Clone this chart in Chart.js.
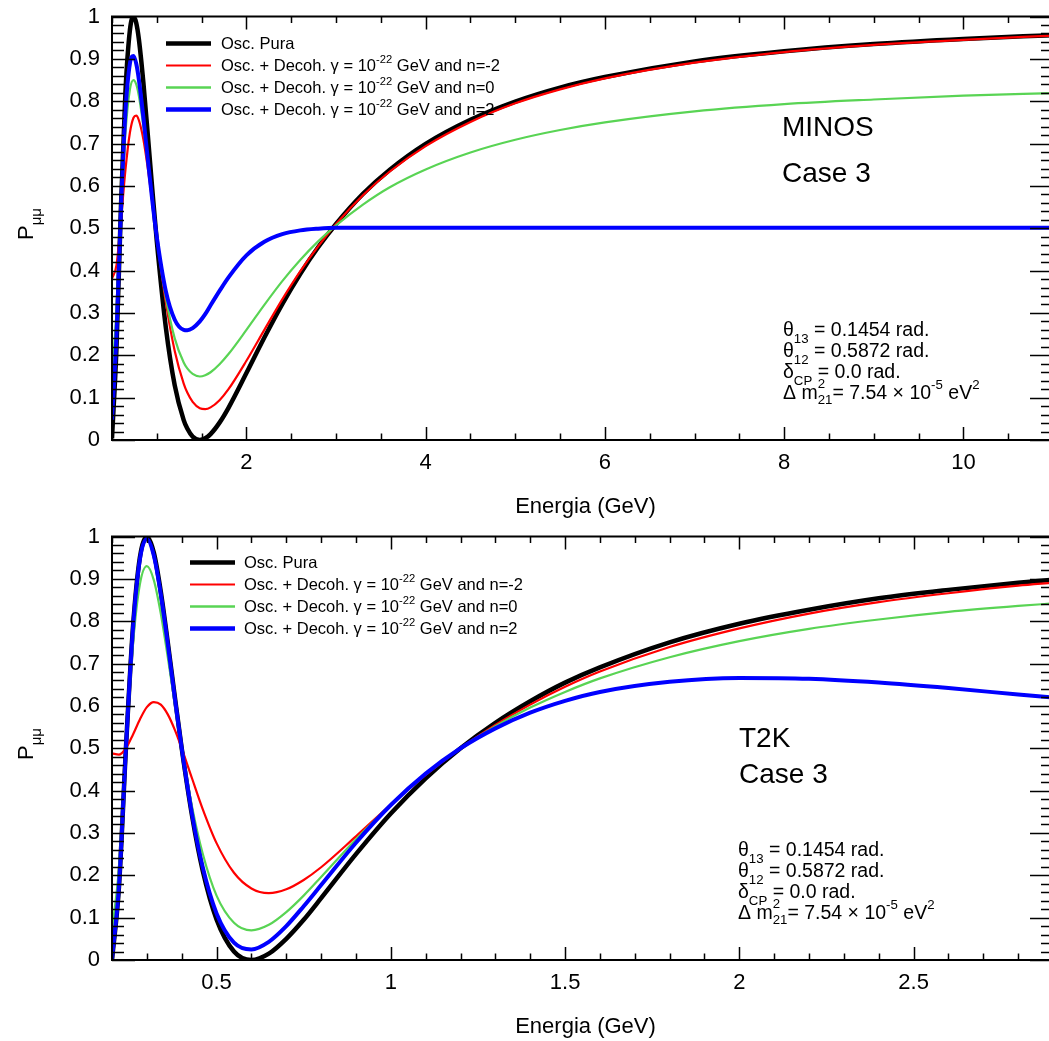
<!DOCTYPE html>
<html>
<head>
<meta charset="utf-8">
<script src="https://cdn.jsdelivr.net/npm/chart.js@4.4.1/dist/chart.umd.min.js"></script>
<style>
  html, body { margin: 0; padding: 0; background: #fff; overflow: hidden; }
  canvas { position: absolute; left: 0; }
  #minos { top: 0; }
  #t2k { top: 520px; }
</style>
</head>
<body>
<canvas id="minos" width="1060" height="520"></canvas>
<canvas id="t2k" width="1060" height="520"></canvas>
<script>
const FONT = '"Liberation Sans", Arial, Helvetica, sans-serif';

// ---- MINOS (upper panel) ----
const minosEnergy = [0.5, 0.55, 0.6, 0.65, 0.7, 0.74, 0.77, 0.8, 0.85, 0.9, 0.95, 1.0, 1.1, 1.2, 1.3, 1.34, 1.4, 1.48, 1.54, 1.6,
  1.7, 1.8, 2.0, 2.2, 2.4, 2.6, 2.8, 3.0, 3.3, 3.6, 4.0, 4.5, 5.0, 5.5, 6.0, 7.0, 8.0, 9.0, 10.0, 11.0];
const minosPura = [0.004, 0.218, 0.552, 0.822, 0.968, 1.000, 0.985, 0.946, 0.844, 0.719, 0.591, 0.469, 0.267, 0.129, 0.047, 0.027, 0.008, 0.000, 0.004, 0.014,
  0.041, 0.076, 0.158, 0.242, 0.321, 0.392, 0.455, 0.510, 0.581, 0.638, 0.699, 0.756, 0.799, 0.832, 0.857, 0.894, 0.918, 0.935, 0.947, 0.956];
const minosNm2 = [0.381, 0.413, 0.519, 0.638, 0.726, 0.761, 0.766, 0.755, 0.710, 0.641, 0.561, 0.478, 0.326, 0.210, 0.133, 0.112, 0.090, 0.075, 0.073, 0.077,
  0.094, 0.120, 0.187, 0.260, 0.332, 0.398, 0.457, 0.510, 0.578, 0.634, 0.694, 0.751, 0.795, 0.828, 0.854, 0.891, 0.916, 0.933, 0.945, 0.955];
const minosN0 = [0.153, 0.303, 0.536, 0.725, 0.828, 0.850, 0.840, 0.812, 0.741, 0.654, 0.564, 0.478, 0.337, 0.240, 0.183, 0.169, 0.156, 0.150, 0.153, 0.160,
  0.179, 0.203, 0.260, 0.319, 0.375, 0.425, 0.469, 0.507, 0.556, 0.597, 0.639, 0.679, 0.709, 0.732, 0.750, 0.776, 0.793, 0.804, 0.813, 0.819];
const minosN2 = [0.048, 0.248, 0.545, 0.775, 0.889, 0.907, 0.889, 0.851, 0.762, 0.662, 0.565, 0.479, 0.352, 0.284, 0.260, 0.259, 0.264, 0.280, 0.297, 0.318,
  0.352, 0.384, 0.436, 0.468, 0.486, 0.495, 0.499, 0.501, 0.501, 0.501, 0.501, 0.501, 0.501, 0.501, 0.501, 0.501, 0.501, 0.501, 0.501, 0.501];
const minosTicks = [2, 4, 6, 8, 10];
const minosTickLabels = ['2', '4', '6', '8', '10'];

// ---- T2K (lower panel) ----
const t2kEnergy = [0.2, 0.22, 0.24, 0.26, 0.28, 0.3, 0.32, 0.34, 0.36, 0.38, 0.4, 0.43, 0.46, 0.5, 0.55, 0.6, 0.65, 0.7, 0.75, 0.8,
  0.9, 1.0, 1.1, 1.2, 1.3, 1.4, 1.5, 1.6, 1.8, 2.0, 2.2, 2.4, 2.6, 2.8, 2.9];
const t2kPura = [0.000, 0.173, 0.500, 0.784, 0.951, 1.000, 0.962, 0.870, 0.750, 0.623, 0.500, 0.339, 0.212, 0.096, 0.020, 0.000, 0.015, 0.050, 0.095, 0.146,
  0.250, 0.346, 0.429, 0.500, 0.560, 0.611, 0.655, 0.691, 0.750, 0.794, 0.827, 0.854, 0.874, 0.891, 0.898];
const t2kNm2 = [0.488, 0.485, 0.500, 0.532, 0.568, 0.597, 0.609, 0.603, 0.580, 0.544, 0.500, 0.428, 0.357, 0.276, 0.206, 0.169, 0.158, 0.167, 0.189, 0.219,
  0.292, 0.367, 0.437, 0.500, 0.555, 0.603, 0.645, 0.681, 0.739, 0.783, 0.818, 0.845, 0.866, 0.884, 0.891];
const t2kN0 = [0.070, 0.218, 0.500, 0.744, 0.887, 0.930, 0.897, 0.818, 0.715, 0.606, 0.500, 0.361, 0.252, 0.152, 0.088, 0.070, 0.083, 0.113, 0.152, 0.196,
  0.285, 0.367, 0.439, 0.500, 0.552, 0.596, 0.633, 0.665, 0.715, 0.753, 0.782, 0.804, 0.822, 0.836, 0.842];
const t2kN2 = [0.003, 0.175, 0.500, 0.781, 0.946, 0.994, 0.955, 0.864, 0.746, 0.620, 0.500, 0.343, 0.220, 0.110, 0.041, 0.025, 0.043, 0.080, 0.127, 0.177,
  0.277, 0.366, 0.440, 0.500, 0.547, 0.584, 0.612, 0.633, 0.657, 0.666, 0.664, 0.655, 0.642, 0.627, 0.620];
const t2kTicks = [0.5, 1, 1.5, 2, 2.5];
const t2kTickLabels = ['0.5', '1', '1.5', '2', '2.5'];

const probTicks = [0, 0.1, 0.2, 0.3, 0.4, 0.5, 0.6, 0.7, 0.8, 0.9, 1];
const probTickLabels = ['0', '0.1', '0.2', '0.3', '0.4', '0.5', '0.6', '0.7', '0.8', '0.9', '1'];

const seriesStyle = [
  { color: '#000000', width: 4.5, legendWidth: 4.5 },
  { color: '#ff0000', width: 2.2, legendWidth: 2.2 },
  { color: 'rgb(89,212,84)', width: 2.2, legendWidth: 2.6 },
  { color: '#0000ff', width: 4, legendWidth: 4.5 }
];
const legendTexts = [
  [['Osc. Pura']],
  [['Osc. + Decoh. γ = 10'], ['-22', 'sup'], [' GeV and n=-2']],
  [['Osc. + Decoh. γ = 10'], ['-22', 'sup'], [' GeV and n=0']],
  [['Osc. + Decoh. γ = 10'], ['-22', 'sup'], [' GeV and n=2']]
];
const paramTexts = [
  [['θ'], ['13', 'sub'], [' = 0.1454 rad.']],
  [['θ'], ['12', 'sub'], [' = 0.5872 rad.']],
  [['δ'], ['CP', 'sub'], [' = 0.0 rad.']],
  [['Δ m'], ['2', 'both', '21'], ['= 7.54 × 10'], ['-5', 'sup'], [' eV'], ['2', 'sup']]
];

// text with sub/superscripts, y is the baseline
function drawRich(ctx, x, y, parts, size) {
  const small = size * 0.68;
  let cx = x;
  for (const [txt, mode, txt2] of parts) {
    if (!mode) {
      ctx.font = size + 'px ' + FONT;
      ctx.fillText(txt, cx, y);
      cx += ctx.measureText(txt).width;
    } else if (mode === 'sub') {
      ctx.font = small + 'px ' + FONT;
      ctx.fillText(txt, cx, y + size * 0.36);
      cx += ctx.measureText(txt).width;
    } else if (mode === 'sup') {
      ctx.font = small + 'px ' + FONT;
      ctx.fillText(txt, cx, y - size * 0.5);
      cx += ctx.measureText(txt).width;
    } else {
      ctx.font = small + 'px ' + FONT;
      ctx.fillText(txt, cx, y - size * 0.55);
      ctx.fillText(txt2, cx, y + size * 0.28);
      cx += Math.max(ctx.measureText(txt).width, ctx.measureText(txt2).width);
    }
  }
  return cx - x;
}

function richWidth(ctx, parts, size) {
  let w = 0;
  for (const [txt, mode, txt2] of parts) {
    ctx.font = (mode ? size * 0.68 : size) + 'px ' + FONT;
    w += Math.max(ctx.measureText(txt).width, txt2 ? ctx.measureText(txt2).width : 0);
  }
  return w;
}

// ROOT-like frame with inner ticks on all four sides
const frameTicks = {
  id: 'frameTicks',
  afterDatasetsDraw(chart, args, o) {
    const { ctx, chartArea: a, scales: { x, y } } = chart;
    ctx.save();
    ctx.strokeStyle = '#000';
    ctx.lineWidth = 1.5;
    ctx.beginPath();
    for (let v = x.min; v <= x.max + 1e-9; v += o.xMinorStep) {
      const px = Math.round(x.getPixelForValue(v)) + 0.5;
      const len = o.xMajor.some(m => Math.abs(m - v) < 1e-6) ? 13 : 6.5;
      ctx.moveTo(px, a.bottom); ctx.lineTo(px, a.bottom - len);
      ctx.moveTo(px, a.top); ctx.lineTo(px, a.top + len);
    }
    for (let i = 0; i <= 50; i++) {
      const v = i * 0.02;
      const py = Math.round(y.getPixelForValue(v)) + 0.5;
      const len = i % 5 === 0 ? 23 : 12;
      ctx.moveTo(a.left, py); ctx.lineTo(a.left + len, py);
      ctx.moveTo(a.right, py); ctx.lineTo(a.right - len, py);
    }
    ctx.stroke();
    ctx.lineWidth = 2;
    ctx.strokeRect(a.left, a.top, a.right - a.left, a.bottom - a.top);
    ctx.restore();
  },
  afterDraw(chart, args, o) {
    const { ctx, chartArea: a } = chart;
    ctx.save();
    ctx.fillStyle = '#000';
    ctx.textBaseline = 'alphabetic';
    ctx.textAlign = 'left';

    // legend
    chart.data.datasets.forEach((ds, i) => {
      const ly = o.legendY + i * 22;
      ctx.strokeStyle = ds.borderColor;
      ctx.lineWidth = seriesStyle[i].legendWidth;
      ctx.beginPath();
      ctx.moveTo(o.legendX1, ly); ctx.lineTo(o.legendX2, ly);
      ctx.stroke();
      drawRich(ctx, o.legendTextX, ly + 5.9, legendTexts[i], 16.5);
    });

    // experiment label
    ctx.font = '28px ' + FONT;
    ctx.fillText(o.title[0], o.titleX, o.titleY[0] + 10);
    ctx.fillText(o.title[1], o.titleX, o.titleY[1] + 10);

    // oscillation parameters
    paramTexts.forEach((p, i) => drawRich(ctx, o.paramsX, o.paramsY + i * 21 + 7, p, 19.5));

    // axis titles
    ctx.font = '22px ' + FONT;
    ctx.textAlign = 'center';
    ctx.fillText('Energia (GeV)', (a.left + a.right) / 2 + 3, 513);

    ctx.textAlign = 'left';
    const yTitle = [['P'], ['μμ', 'sub']];
    ctx.translate(33, 224);
    ctx.rotate(-Math.PI / 2);
    const w = richWidth(ctx, yTitle, 22);
    drawRich(ctx, -w / 2, 0, yTitle, 22);
    ctx.restore();
  }
};

function makeChart(id, energy, series, xMin, xMax, ticks, tickLabels, minorStep, notes) {
  const datasets = series.map((vals, i) => ({
    data: energy.map((e, k) => ({ x: e, y: vals[k] })),
    borderColor: seriesStyle[i].color,
    borderWidth: seriesStyle[i].width,
    pointRadius: 0,
    fill: false,
    cubicInterpolationMode: 'monotone',
    order: 4 - i
  }));
  return new Chart(document.getElementById(id), {
    type: 'line',
    data: { datasets },
    options: {
      responsive: false,
      animation: false,
      layout: { padding: { top: 16.5, right: 7, left: 0, bottom: 0 } },
      plugins: {
        legend: { display: false },
        tooltip: { enabled: false },
        frameTicks: Object.assign({ xMajor: ticks, xMinorStep: minorStep }, notes)
      },
      scales: {
        x: {
          type: 'linear', min: xMin, max: xMax,
          afterBuildTicks: s => { s.ticks = ticks.map(v => ({ value: v })); },
          afterFit: s => { s.height = 80; s.paddingLeft = 0; s.paddingRight = 0; },
          grid: { display: false, drawTicks: false },
          border: { display: false },
          ticks: {
            autoSkip: false, maxRotation: 0, padding: 10, color: '#000',
            font: { size: 22, family: FONT },
            callback: (v, i) => tickLabels[i]
          }
        },
        y: {
          type: 'linear', min: 0, max: 1,
          afterBuildTicks: s => { s.ticks = probTicks.map(v => ({ value: v })); },
          afterFit: s => { s.width = 112; s.paddingTop = 0; s.paddingBottom = 0; },
          grid: { display: false, drawTicks: false },
          border: { display: false },
          ticks: {
            autoSkip: false, padding: 12, color: '#000',
            font: { size: 22, family: FONT },
            callback: (v, i) => probTickLabels[i]
          }
        }
      }
    },
    plugins: [frameTicks]
  });
}

makeChart('minos', minosEnergy, [minosPura, minosNm2, minosN0, minosN2], 0.5, 11,
  minosTicks, minosTickLabels, 0.5,
  { legendX1: 166, legendX2: 211, legendTextX: 221, legendY: 43.5,
    title: ['MINOS', 'Case 3'], titleX: 782, titleY: [125.5, 171.5],
    paramsX: 783, paramsY: 328.5 });

makeChart('t2k', t2kEnergy, [t2kPura, t2kNm2, t2kN0, t2kN2], 0.2, 2.9,
  t2kTicks, t2kTickLabels, 0.1,
  { legendX1: 190, legendX2: 235, legendTextX: 244, legendY: 42.5,
    title: ['T2K', 'Case 3'], titleX: 739, titleY: [217, 253],
    paramsX: 738, paramsY: 328.5 });
</script>
</body>
</html>
